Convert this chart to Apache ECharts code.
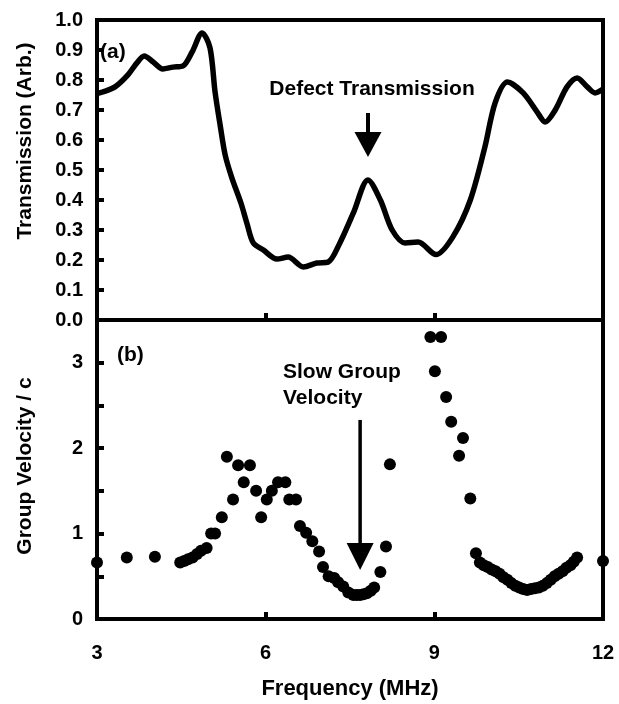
<!DOCTYPE html>
<html>
<head>
<meta charset="utf-8">
<script src="https://cdn.jsdelivr.net/npm/echarts@6/dist/echarts.min.js"></script>
<style>
  html, body { margin: 0; padding: 0; background: #fff; }
  #chart { width: 619px; height: 704px; }
</style>
</head>
<body>
<div id="chart"></div>
<script>
// (a) transmission curve
const freqA = [3.0, 3.1, 3.32, 3.55, 3.71, 3.84, 4.0, 4.17, 4.35, 4.53, 4.69, 4.87, 5.01, 5.1, 5.19, 5.28, 5.4,
  5.56, 5.67, 5.78, 5.96, 6.2, 6.4, 6.67, 6.91, 7.11, 7.32, 7.56, 7.82, 8.04, 8.25, 8.48, 8.71, 9.03, 9.33,
  9.64, 9.9, 10.08, 10.3, 10.58, 10.83, 10.97, 11.15, 11.36, 11.54, 11.72, 11.86, 12.0];
const transA = [0.755, 0.76, 0.777, 0.817, 0.857, 0.88, 0.86, 0.837, 0.843, 0.847, 0.893, 0.957, 0.907, 0.76, 0.65, 0.55, 0.473,
  0.39, 0.32, 0.257, 0.233, 0.203, 0.21, 0.177, 0.19, 0.193, 0.257, 0.357, 0.467, 0.4, 0.3, 0.257, 0.26, 0.218, 0.277,
  0.4, 0.577, 0.723, 0.793, 0.757, 0.693, 0.66, 0.7, 0.777, 0.807, 0.777, 0.757, 0.77];

// (b) group velocity points
const freqB = [3.0, 3.53, 4.03, 4.48, 4.55, 4.62, 4.70, 4.78, 4.85, 4.95, 5.03, 5.1, 5.22, 5.42, 5.31, 5.51, 5.72, 5.61,
  5.83, 5.92, 6.02, 6.11, 6.22, 6.35, 6.42, 6.54, 6.61, 6.72, 6.83, 6.95, 7.02, 7.12, 7.22, 7.29, 7.38, 7.47, 7.56,
  7.62, 7.68, 7.74, 7.80, 7.87, 7.93, 8.04, 8.14, 8.21, 8.93, 9.12, 9.01, 9.21, 9.30, 9.51, 9.44, 9.64, 9.74,
  9.81, 9.88, 9.95, 10.02, 10.09, 10.16, 10.23, 10.30, 10.37, 10.44, 10.51, 10.58, 10.65, 10.72, 10.79, 10.86,
  10.93, 11.00, 11.07, 11.14, 11.21, 11.28, 11.35, 11.42, 11.48, 11.54, 12.0];
const velB = [0.66, 0.72, 0.73, 0.66, 0.68, 0.70, 0.72, 0.76, 0.80, 0.83, 1.0, 1.0, 1.19, 1.40, 1.90, 1.80, 1.80, 1.60,
  1.50, 1.19, 1.40, 1.50, 1.60, 1.60, 1.40, 1.40, 1.09, 1.01, 0.91, 0.79, 0.61, 0.50, 0.48, 0.43, 0.38, 0.31, 0.28,
  0.28, 0.28, 0.29, 0.30, 0.33, 0.37, 0.55, 0.85, 1.81, 3.30, 3.30, 2.90, 2.60, 2.31, 2.12, 1.91, 1.41, 0.77,
  0.66, 0.63, 0.61, 0.58, 0.56, 0.53, 0.49, 0.46, 0.42, 0.39, 0.37, 0.35, 0.34, 0.35, 0.36, 0.37,
  0.39, 0.42, 0.46, 0.50, 0.53, 0.56, 0.60, 0.63, 0.67, 0.72, 0.68];

const xTicks = [3, 6, 9, 12];

// arrows: [x, shaft top, head base, tip] in data units
const arrowA = [7.82, 0.69, 0.627, 0.543];
const arrowB = [7.68, 2.33, 0.89, 0.574];

const FONT = '"Liberation Sans", Arial, sans-serif';
const boldText = (size) => ({ fontFamily: FONT, fontWeight: 'bold', fontSize: size, color: '#000' });
function boldTextG(size) {
  return { font: 'bold ' + size + 'px ' + FONT, fill: '#000' };
}

const lineA = freqA.map((f, i) => [f, transA[i]]);
const ptsB = freqB.map((f, i) => [f, velB[i]]);

const axisLine = { show: true, onZero: false, lineStyle: { color: '#000', width: 4 } };
const axisTick = { show: true, inside: true, length: 7, lineStyle: { color: '#000', width: 4 } };

const option = {
  animation: false,
  backgroundColor: '#fff',
  grid: [
    { left: 97, right: 16, top: 20, height: 300, show: true, borderColor: '#000', borderWidth: 4 },
    { left: 97, right: 16, top: 320, height: 299, show: true, borderColor: '#000', borderWidth: 4 }
  ],
  xAxis: [
    {
      gridIndex: 0, type: 'value', min: xTicks[0], max: xTicks[xTicks.length - 1], interval: 3,
      axisLine, axisTick, axisLabel: { show: false }, splitLine: { show: false }
    },
    {
      gridIndex: 1, type: 'value', min: xTicks[0], max: xTicks[xTicks.length - 1], interval: 3,
      axisLine, axisTick,
      axisLabel: Object.assign({ margin: 24 }, boldText(20)),
      splitLine: { show: false },
      name: 'Frequency (MHz)', nameLocation: 'middle', nameGap: 59,
      nameTextStyle: boldText(22)
    }
  ],
  yAxis: [
    {
      gridIndex: 0, type: 'value', min: 0, max: 1, interval: 0.1,
      axisLine, axisTick, splitLine: { show: false },
      axisLabel: Object.assign({ margin: 14, formatter: v => v.toFixed(1) }, boldText(20))
    },
    {
      gridIndex: 1, type: 'value', min: 0, max: 3.5, interval: 0.5,
      axisLine, axisTick, splitLine: { show: false },
      axisLabel: Object.assign({ margin: 14, formatter: v => (v % 1 === 0 && v < 3.5 ? String(v) : '') }, boldText(20))
    }
  ],
  graphic: [
    { type: 'text', x: 25, y: 141, rotation: Math.PI / 2,
      style: Object.assign({ text: 'Transmission (Arb.)', align: 'center', verticalAlign: 'middle' }, boldTextG(21)) },
    { type: 'text', x: 25, y: 466, rotation: Math.PI / 2,
      style: Object.assign({ text: 'Group Velocity / c', align: 'center', verticalAlign: 'middle' }, boldTextG(21)) },
    { type: 'text', x: 100, y: 52, style: Object.assign({ text: '(a)', verticalAlign: 'middle' }, boldTextG(21)) },
    { type: 'text', x: 117, y: 355, style: Object.assign({ text: '(b)', verticalAlign: 'middle' }, boldTextG(21)) },
    { type: 'text', x: 372, y: 89, style: Object.assign({ text: 'Defect Transmission', align: 'center', verticalAlign: 'middle' }, boldTextG(21)) },
    { type: 'text', x: 283, y: 372, style: Object.assign({ text: 'Slow Group', verticalAlign: 'middle' }, boldTextG(21)) },
    { type: 'text', x: 283, y: 398, style: Object.assign({ text: 'Velocity', verticalAlign: 'middle' }, boldTextG(21)) }
  ],
  series: [
    {
      name: 'Transmission', type: 'line', xAxisIndex: 0, yAxisIndex: 0,
      data: lineA, smooth: 0.3, showSymbol: false, silent: true,
      lineStyle: { color: '#000', width: 5.5 }
    },
    {
      name: 'Group velocity', type: 'scatter', xAxisIndex: 1, yAxisIndex: 1,
      data: ptsB, symbolSize: 12, silent: true,
      itemStyle: { color: '#000', opacity: 1 }
    }
  ]
};

const myChart = echarts.init(document.getElementById('chart'), null, { renderer: 'canvas' });
myChart.setOption(option);

// arrows placed through the axes' own scales
function arrowGraphics(id, gridIndex, a, shaftWidth) {
  const top = myChart.convertToPixel({ gridIndex }, [a[0], a[1]]);
  const base = myChart.convertToPixel({ gridIndex }, [a[0], a[2]]);
  const tip = myChart.convertToPixel({ gridIndex }, [a[0], a[3]]);
  return [
    { id: id + '-shaft', type: 'line', silent: true,
      shape: { x1: top[0], y1: top[1], x2: base[0], y2: base[1] + 2 },
      style: { stroke: '#000', lineWidth: shaftWidth } },
    { id: id + '-head', type: 'polygon', silent: true,
      shape: { points: [[base[0] - 13.5, base[1]], [base[0] + 13.5, base[1]], [tip[0], tip[1]]] },
      style: { fill: '#000' } }
  ];
}
myChart.setOption({
  graphic: arrowGraphics('arrowA', 0, arrowA, 4).concat(arrowGraphics('arrowB', 1, arrowB, 3.5))
});
</script>
</body>
</html>
